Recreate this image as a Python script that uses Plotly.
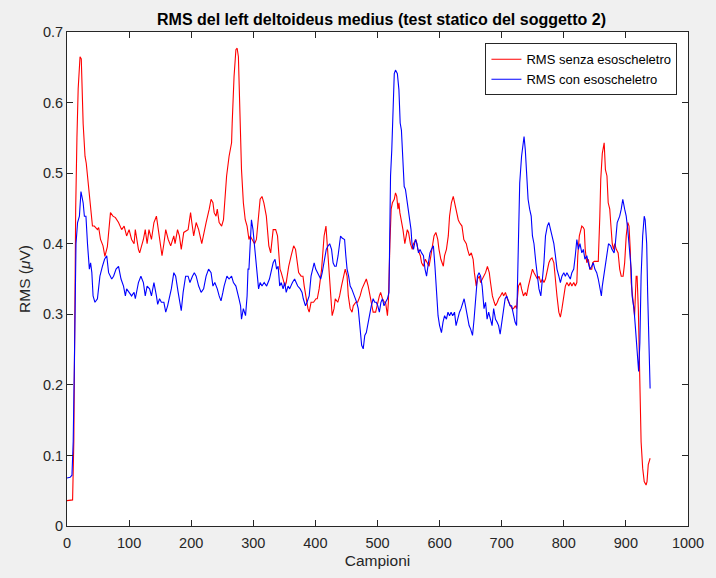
import plotly.graph_objects as go

# ---- data ----
x_senza = [0, 5, 9, 11, 12, 14, 16, 18, 21, 23, 26, 29, 31, 35, 38, 41, 44, 49, 51, 54, 58, 61, 65, 67, 70, 74, 78, 83, 88, 92, 96, 100, 104, 108, 110, 115, 117, 123, 126, 129, 132, 136, 140, 144, 147, 151, 153, 156, 159, 163, 167, 172, 174, 178, 181, 184, 188, 195, 199, 201, 204, 208, 212, 217, 220, 224, 229, 232, 235, 237, 240, 242,
           245, 249, 252, 254, 257, 261, 265, 266, 269, 272, 274, 276, 278, 281, 284, 287, 290, 293, 295, 298, 302, 305, 308, 311, 314, 317, 321, 323, 325, 328, 330, 332, 336, 339, 341, 343, 345, 348, 351, 353, 357, 361, 365, 368, 370, 373, 377, 380, 382, 385, 388, 390, 393, 397, 401, 403, 406, 410, 414, 417, 419, 422, 425, 427, 430, 432, 436, 439, 442, 446, 448, 451, 453, 456, 459, 461, 465, 468, 472, 475, 480, 482, 485, 488, 490, 493, 497,
           500, 503, 505, 508, 511, 513, 516, 517.5, 520, 522, 524, 527, 529, 531, 533, 534.5, 536, 539, 541, 544, 546, 548, 550, 553, 556, 558, 562, 565, 569, 571, 574, 577, 580, 583, 586, 588, 591, 594, 597, 599, 602, 606, 608, 611, 614, 616, 619, 622, 624, 627, 630, 632, 636, 639, 643, 645, 648, 651, 654, 656, 659, 661, 664, 666, 671, 674, 677, 680, 682, 685, 688, 690, 693, 695, 698, 701, 703, 706, 709, 711, 714, 717, 719, 722, 724, 727, 730, 732, 735, 738, 740, 743, 746,
           749.5, 752, 755, 757.5, 760, 763, 765.5, 768, 770.5, 773.5, 776, 778.5, 781, 784, 786.5, 789, 792, 794.5, 797, 800, 802.5, 805, 808, 810.5, 813, 816, 818.5, 821, 822.5, 825, 827.5, 829, 831.5, 833, 834.5, 837, 839.5, 842, 845, 846.5, 849, 853, 855.5, 858, 859.5, 862, 863.5, 865, 867, 869.5, 871.5, 874, 875.5, 878, 880, 882, 884.5, 887.5, 890, 892.5, 895.5, 898, 900.5, 903, 905, 907, 908.5, 911, 914, 916.5, 918, 920, 922.5, 924.5, 927, 929.5, 932.5, 934, 936, 937.5, 939]
y_senza = [0.036, 0.036, 0.037, 0.12, 0.25, 0.45, 0.55, 0.62, 0.665, 0.662, 0.57, 0.524, 0.514, 0.477, 0.458, 0.425, 0.425, 0.42, 0.423, 0.406, 0.397, 0.382, 0.396, 0.42, 0.444, 0.439, 0.437, 0.43, 0.42, 0.425, 0.411, 0.42, 0.406, 0.40, 0.42, 0.392, 0.387, 0.406, 0.42, 0.40, 0.42, 0.406, 0.43, 0.439, 0.42, 0.392, 0.383, 0.40, 0.42, 0.406, 0.397, 0.411, 0.40, 0.42, 0.411, 0.392, 0.416, 0.42, 0.444, 0.43, 0.411, 0.43, 0.42, 0.40, 0.411, 0.43, 0.449, 0.463, 0.458, 0.444, 0.439, 0.449,
           0.43, 0.425, 0.434, 0.458, 0.496, 0.524, 0.543, 0.571, 0.637, 0.675, 0.677, 0.665, 0.59, 0.505, 0.458, 0.434, 0.425, 0.406, 0.411, 0.406, 0.40, 0.406, 0.43, 0.463, 0.467, 0.458, 0.439, 0.411, 0.397, 0.387, 0.40, 0.42, 0.42, 0.411, 0.387, 0.364, 0.359, 0.35, 0.34, 0.345, 0.368, 0.383, 0.397, 0.392, 0.378, 0.359, 0.354, 0.354, 0.34, 0.322, 0.308, 0.303, 0.317, 0.317, 0.322, 0.322, 0.336, 0.364, 0.411, 0.425, 0.40, 0.359, 0.322, 0.298, 0.308, 0.322, 0.317, 0.326, 0.34, 0.359, 0.364, 0.354, 0.326, 0.308, 0.303, 0.312, 0.317, 0.317, 0.326, 0.336, 0.345, 0.35, 0.34, 0.326, 0.317, 0.303, 0.303,
           0.317, 0.326, 0.331, 0.322, 0.317, 0.317, 0.298, 0.317, 0.40, 0.449, 0.458, 0.463, 0.472, 0.467, 0.449, 0.458, 0.444, 0.43, 0.42, 0.40, 0.411, 0.42, 0.416, 0.40, 0.392, 0.40, 0.406, 0.392, 0.383, 0.373, 0.368, 0.378, 0.373, 0.368, 0.383, 0.397, 0.411, 0.416, 0.406, 0.392, 0.378, 0.368, 0.383, 0.392, 0.411, 0.439, 0.458, 0.467, 0.458, 0.449, 0.434, 0.43, 0.425, 0.406, 0.40, 0.392, 0.383, 0.387, 0.378, 0.359, 0.34, 0.35, 0.354, 0.345, 0.354, 0.359, 0.368, 0.359, 0.345, 0.326, 0.317, 0.312, 0.317, 0.322, 0.326, 0.331, 0.326, 0.331, 0.322, 0.317, 0.312, 0.308, 0.308, 0.312, 0.308, 0.34, 0.345, 0.336, 0.326, 0.331, 0.326, 0.34, 0.35,
           0.364, 0.359, 0.354, 0.35, 0.354, 0.345, 0.35, 0.345, 0.35, 0.364, 0.373, 0.378, 0.38, 0.373, 0.354, 0.326, 0.303, 0.296, 0.308, 0.326, 0.34, 0.345, 0.34, 0.345, 0.34, 0.345, 0.34, 0.345, 0.383, 0.411, 0.42, 0.425, 0.423, 0.42, 0.392, 0.373, 0.378, 0.364, 0.364, 0.373, 0.375, 0.375, 0.375, 0.439, 0.491, 0.528, 0.538, 0.543, 0.505, 0.496, 0.458, 0.449, 0.43, 0.40, 0.392, 0.40, 0.392, 0.387, 0.364, 0.354, 0.354, 0.373, 0.411, 0.43, 0.425, 0.392, 0.345, 0.326, 0.298, 0.354, 0.354, 0.308, 0.214, 0.119, 0.082, 0.063, 0.058, 0.063, 0.087, 0.094, 0.096]

x_con = [0, 5, 8, 10, 12, 14.5, 17, 20, 22.5, 24, 26, 28, 30.5, 33, 36, 38, 40, 42, 45, 49, 53, 57, 60.5, 64, 67, 72, 75, 79, 83, 87, 91, 94, 96, 100, 104, 108, 110, 115, 119, 123, 126, 129, 133, 136, 140, 144, 146, 149, 152, 156, 159, 162, 165, 168, 172, 175, 179, 182, 184, 187, 191, 195, 198, 202, 205, 208, 212, 216, 220, 224, 228, 232, 235, 238, 242,
         245, 248, 251, 253, 257.5, 261, 265, 268, 272, 274, 277, 279.5, 281, 284, 286, 287.5, 290, 291.5, 293, 295.5, 297, 299.5, 301.5, 304, 306, 308.5, 311, 314, 317.5, 321.5, 326, 329.5, 332, 335, 337.5, 340, 342.5, 345, 348, 350.5, 353, 356, 358.5, 363, 366.5, 369, 371.5, 375.5, 378.5, 380.5, 384, 386.5, 390, 393, 395.5, 398, 400.5, 403, 406, 408.5, 411, 414, 417.5, 420.5, 423, 426, 428.5, 431, 433.5, 436.5, 438.5, 440.5, 443, 447, 449, 451, 453.5, 456, 458.5, 463, 466.5, 469, 472, 474.5, 477, 479.5, 482, 485, 487.5, 490, 493, 495.5,
         498, 500.5, 503, 505.5, 508, 510.5, 513, 516, 518.5, 521, 523, 525, 527, 529, 532, 534.5, 536.5, 538.5, 541, 543, 545, 546.5, 549, 552, 554, 555.5, 558, 561, 563.5, 566, 568.5, 571, 574, 576.5, 579, 582, 584.5, 587, 590, 592.5, 595, 597.5, 600, 603, 605.5, 608, 611, 613.5, 616, 618.5, 621, 624, 626.5, 629, 632, 634.5, 637, 639.5, 642.5, 645, 647.5, 650, 653, 655.5, 658, 661, 663.5, 666, 668.5, 671.5, 674, 676.5, 679, 682, 684.5, 687, 690, 692.5, 695, 697.5, 700, 703, 705.5, 708, 711, 713.5, 716, 719, 721.5, 724, 726.5, 729, 732, 734.5, 736, 738, 741, 742.5, 745, 747.5,
         749.5, 752, 755, 757.5, 760, 763, 765.5, 768, 770.5, 773.5, 776, 778.5, 781, 784, 786.5, 789, 792, 794.5, 797, 800, 802.5, 805, 808, 810.5, 813, 816, 818.5, 821, 823.5, 826, 829, 831.5, 834, 837, 839.5, 842, 845, 847.5, 850, 853, 855.5, 858, 860.5, 862, 865, 867, 870, 872, 875.5, 877.5, 881, 883, 886, 890, 892.5, 895, 898, 900.5, 903, 906, 908.5, 910, 913, 915.5, 917.5, 919, 920.5, 922.5, 924.5, 927, 929.5, 931, 933.5, 935, 937.5, 939]
y_con = [0.068, 0.069, 0.072, 0.12, 0.237, 0.40, 0.43, 0.439, 0.474, 0.467, 0.458, 0.439, 0.439, 0.40, 0.364, 0.373, 0.359, 0.326, 0.317, 0.322, 0.354, 0.368, 0.378, 0.383, 0.359, 0.35, 0.354, 0.364, 0.368, 0.35, 0.34, 0.326, 0.336, 0.331, 0.326, 0.331, 0.322, 0.345, 0.354, 0.345, 0.326, 0.34, 0.336, 0.326, 0.345, 0.326, 0.314, 0.322, 0.317, 0.317, 0.303, 0.312, 0.322, 0.336, 0.359, 0.354, 0.331, 0.312, 0.305, 0.331, 0.354, 0.354, 0.345, 0.354, 0.359, 0.354, 0.34, 0.331, 0.336, 0.354, 0.364, 0.359, 0.34, 0.345, 0.336,
         0.326, 0.319, 0.331, 0.34, 0.354, 0.35, 0.354, 0.345, 0.34, 0.331, 0.322, 0.312, 0.293, 0.308, 0.303, 0.298, 0.326, 0.364, 0.364, 0.40, 0.434, 0.42, 0.40, 0.373, 0.354, 0.336, 0.345, 0.34, 0.345, 0.34, 0.35, 0.364, 0.373, 0.378, 0.364, 0.368, 0.34, 0.345, 0.336, 0.345, 0.331, 0.34, 0.336, 0.345, 0.35, 0.345, 0.34, 0.336, 0.331, 0.322, 0.312, 0.317, 0.326, 0.354, 0.364, 0.373, 0.364, 0.359, 0.354, 0.35, 0.359, 0.373, 0.392, 0.397, 0.40, 0.392, 0.373, 0.368, 0.368, 0.383, 0.40, 0.411, 0.408, 0.406, 0.383, 0.364, 0.354, 0.34, 0.336, 0.326, 0.317, 0.308, 0.284, 0.256, 0.251, 0.27, 0.274, 0.289, 0.298, 0.312, 0.322, 0.317,
         0.317, 0.312, 0.303, 0.317, 0.322, 0.312, 0.317, 0.322, 0.331, 0.496, 0.533, 0.58, 0.641, 0.646, 0.641, 0.618, 0.571, 0.561, 0.519, 0.481, 0.477, 0.467, 0.449, 0.43, 0.42, 0.40, 0.392, 0.406, 0.40, 0.387, 0.392, 0.387, 0.383, 0.364, 0.354, 0.373, 0.387, 0.392, 0.397, 0.368, 0.331, 0.298, 0.284, 0.274, 0.289, 0.298, 0.293, 0.303, 0.298, 0.303, 0.298, 0.303, 0.284, 0.293, 0.303, 0.308, 0.317, 0.322, 0.308, 0.293, 0.284, 0.279, 0.27, 0.293, 0.322, 0.354, 0.359, 0.354, 0.34, 0.308, 0.317, 0.293, 0.303, 0.293, 0.284, 0.308, 0.293, 0.289, 0.284, 0.272, 0.289, 0.308, 0.322, 0.326, 0.317, 0.312, 0.312, 0.298, 0.289, 0.284, 0.40, 0.486, 0.524, 0.547, 0.552, 0.533, 0.486, 0.463, 0.449, 0.439,
         0.411, 0.40, 0.373, 0.354, 0.336, 0.326, 0.345, 0.373, 0.411, 0.425, 0.43, 0.42, 0.411, 0.40, 0.383, 0.364, 0.354, 0.345, 0.354, 0.359, 0.354, 0.359, 0.354, 0.35, 0.359, 0.364, 0.383, 0.406, 0.392, 0.40, 0.387, 0.392, 0.378, 0.383, 0.373, 0.364, 0.368, 0.373, 0.364, 0.359, 0.35, 0.34, 0.326, 0.34, 0.359, 0.373, 0.387, 0.40, 0.397, 0.392, 0.387, 0.40, 0.43, 0.439, 0.449, 0.463, 0.449, 0.439, 0.42, 0.392, 0.364, 0.326, 0.308, 0.279, 0.251, 0.228, 0.219, 0.26, 0.354, 0.411, 0.439, 0.434, 0.40, 0.331, 0.26, 0.195]

x_ticks = [0, 100, 200, 300, 400, 500, 600, 700, 800, 900, 1000]
y_ticks = [0, 0.1, 0.2, 0.3, 0.4, 0.5, 0.6, 0.7]
y_tick_labels = ["0", "0.1", "0.2", "0.3", "0.4", "0.5", "0.6", "0.7"]

FONT = "Liberation Sans, Arial, Helvetica, sans-serif"
AX = "#262626"

fig = go.Figure()
fig.add_trace(go.Scatter(x=x_senza, y=y_senza, mode="lines", name="RMS senza esoscheletro",
                         line=dict(color="#ff0000", width=1.1)))
fig.add_trace(go.Scatter(x=x_con, y=y_con, mode="lines", name="RMS con esoscheletro",
                         line=dict(color="#0000ff", width=1.1)))

axis_common = dict(showgrid=False, zeroline=False, showline=True, linecolor=AX, linewidth=1,
                   mirror="ticks", ticks="inside", ticklen=6, tickcolor=AX,
                   tickfont=dict(family=FONT, size=14.5, color=AX))

fig.update_layout(
    width=716, height=578,
    paper_bgcolor="#f0f0f0", plot_bgcolor="#ffffff",
    margin=dict(l=67, r=20, t=32, b=50),
    font=dict(family=FONT, color=AX),
    title=dict(text="<b>RMS del left deltoideus medius (test statico del soggetto 2)</b>",
               x=(67 + 696) / 2 / 716, xanchor="center", y=1 - 19 / 578, yanchor="middle",
               font=dict(family=FONT, size=16, color="#000000")),
    xaxis=dict(range=[0, 1000], tickvals=x_ticks, ticklabelstandoff=4,
               title=dict(text="Campioni", font=dict(family=FONT, size=15.5, color=AX), standoff=4),
               **axis_common),
    yaxis=dict(range=[0, 0.7], tickvals=y_ticks, ticktext=y_tick_labels,
               title=dict(text="RMS (<i>μ</i>V)", font=dict(family=FONT, size=15.5, color=AX), standoff=8),
               **axis_common),
    legend=dict(x=0.983, xanchor="right", y=0.977, yanchor="top",
                bgcolor="#ffffff", bordercolor=AX, borderwidth=1,
                font=dict(family=FONT, size=13, color="#000000"),
                tracegroupgap=0, itemwidth=30),
    showlegend=True,
)

fig.write_html("out.html")
